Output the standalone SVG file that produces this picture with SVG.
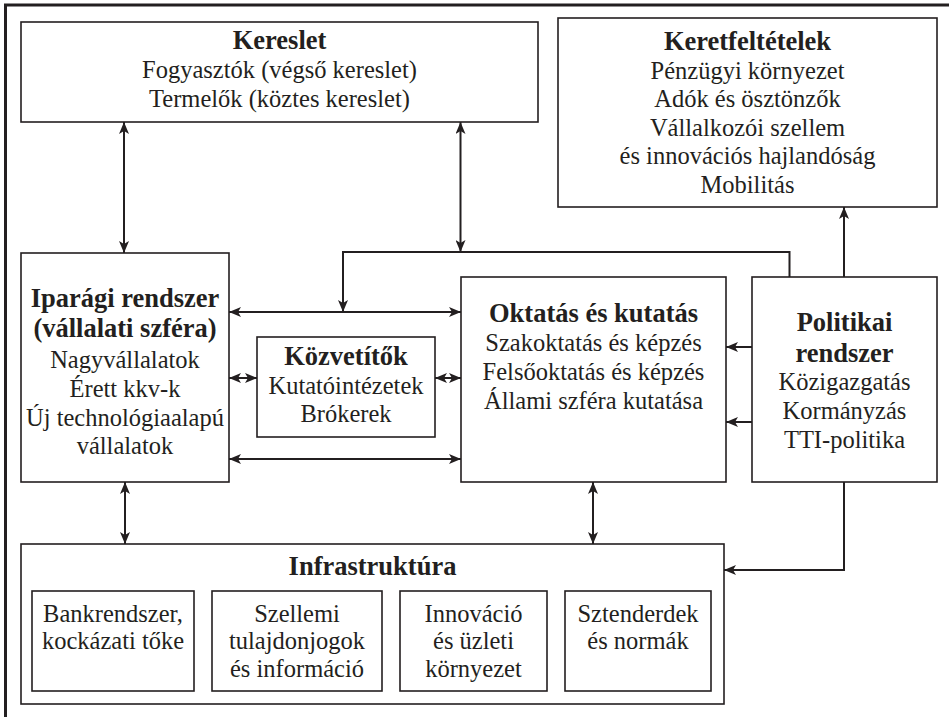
<svg xmlns="http://www.w3.org/2000/svg" width="949" height="717" viewBox="0 0 949 717">
<style>
text{font-family:'Liberation Serif','DejaVu Serif','Times New Roman',serif;fill:#231f20;text-anchor:middle;font-size:24.5px}
.b{font-weight:bold;font-size:26.5px}
.box{fill:#fff;stroke:#231f20;stroke-width:1.6}
.c{fill:none;stroke:#231f20;stroke-width:2}
</style>
<defs>
<marker id="ah" viewBox="0 0 12 10" refX="12" refY="5" markerWidth="12" markerHeight="10" markerUnits="userSpaceOnUse" orient="auto-start-reverse">
<path d="M0,0 L12,5 L0,10 L3,5 Z" fill="#231f20"/>
</marker>
</defs>
<rect width="949" height="717" fill="#fff"/>
<g id="frame">
<path d="M5.5,717 V5 H949" fill="none" stroke="#231f20" stroke-width="3"/>
</g>
<g font-family="Liberation Serif, DejaVu Serif, serif">
<g id="kereslet">
<rect class="box" x="21" y="22" width="517" height="100"/>
<text class="b" x="279.5" y="49">Kereslet</text>
<text x="279.5" y="78">Fogyasztók (végső kereslet)</text>
<text x="279.5" y="107">Termelők (köztes kereslet)</text>
</g>
<g id="keretfeltetelek">
<rect class="box" x="558" y="18" width="379" height="189"/>
<text class="b" x="747.5" y="50">Keretfeltételek</text>
<text x="747.5" y="78.5">Pénzügyi környezet</text>
<text x="747.5" y="107">Adók és ösztönzők</text>
<text x="747.5" y="135.5">Vállalkozói szellem</text>
<text x="747.5" y="164">és innovációs hajlandóság</text>
<text x="747.5" y="192.5">Mobilitás</text>
</g>
<g id="iparagi">
<rect class="box" x="21" y="253" width="208" height="229"/>
<text class="b" x="125" y="306.5">Iparági rendszer</text>
<text class="b" x="125" y="336.5">(vállalati szféra)</text>
<text x="125" y="367.5">Nagyvállalatok</text>
<text x="125" y="396.5">Érett kkv-k</text>
<text x="125" y="425.5">Új technológiaalapú</text>
<text x="125" y="454">vállalatok</text>
</g>
<g id="kozvetitok">
<rect class="box" x="257" y="337" width="178" height="100"/>
<text class="b" x="346" y="365">Közvetítők</text>
<text x="346" y="394">Kutatóintézetek</text>
<text x="346" y="422">Brókerek</text>
</g>
<g id="oktatas">
<rect class="box" x="461" y="277" width="265" height="205"/>
<text class="b" x="593.5" y="321.5">Oktatás és kutatás</text>
<text x="593.5" y="351">Szakoktatás és képzés</text>
<text x="593.5" y="379.5">Felsőoktatás és képzés</text>
<text x="593.5" y="408.5">Állami szféra kutatása</text>
</g>
<g id="politikai">
<rect class="box" x="752" y="277" width="185" height="205"/>
<text class="b" x="844.5" y="330.5">Politikai</text>
<text class="b" x="844.5" y="361.5">rendszer</text>
<text x="844.5" y="390">Közigazgatás</text>
<text x="844.5" y="419">Kormányzás</text>
<text x="844.5" y="448">TTI-politika</text>
</g>
<g id="infrastruktura">
<rect class="box" x="21" y="544" width="703" height="160"/>
<text class="b" x="372.5" y="575">Infrastruktúra</text>
<g id="bankrendszer">
<rect class="box" x="32" y="591" width="162" height="100"/>
<text x="113" y="621.5">Bankrendszer,</text>
<text x="113" y="649">kockázati tőke</text>
</g>
<g id="szellemi">
<rect class="box" x="212" y="591" width="170" height="100"/>
<text x="297" y="621.5">Szellemi</text>
<text x="297" y="649">tulajdonjogok</text>
<text x="297" y="676.5">és információ</text>
</g>
<g id="innovacio">
<rect class="box" x="400" y="591" width="147" height="100"/>
<text x="473.5" y="621.5">Innováció</text>
<text x="473.5" y="649">és üzleti</text>
<text x="473.5" y="676.5">környezet</text>
</g>
<g id="sztenderdek">
<rect class="box" x="565" y="591" width="146" height="100"/>
<text x="638" y="621.5">Sztenderdek</text>
<text x="638" y="649">és normák</text>
</g>
</g>
</g>
<g id="connectors">
<line class="c" x1="124" y1="122" x2="124" y2="253" marker-start="url(#ah)" marker-end="url(#ah)"/>
<line class="c" x1="460.5" y1="122" x2="460.5" y2="252" marker-start="url(#ah)" marker-end="url(#ah)"/>
<path class="c" d="M789.5,277 V252 H343 V312" marker-end="url(#ah)"/>
<line class="c" x1="229" y1="312" x2="461" y2="312" marker-start="url(#ah)" marker-end="url(#ah)"/>
<line class="c" x1="229" y1="459" x2="461" y2="459" marker-start="url(#ah)" marker-end="url(#ah)"/>
<line class="c" x1="229" y1="378" x2="257" y2="378" marker-start="url(#ah)" marker-end="url(#ah)"/>
<line class="c" x1="435" y1="378" x2="461" y2="378" marker-start="url(#ah)" marker-end="url(#ah)"/>
<line class="c" x1="752" y1="347" x2="726" y2="347" marker-end="url(#ah)"/>
<line class="c" x1="752" y1="422" x2="726" y2="422" marker-end="url(#ah)"/>
<line class="c" x1="844" y1="277" x2="844" y2="207" marker-end="url(#ah)"/>
<path class="c" d="M844,482 V570 H724" marker-end="url(#ah)"/>
<line class="c" x1="125" y1="482" x2="125" y2="544" marker-start="url(#ah)" marker-end="url(#ah)"/>
<line class="c" x1="593" y1="482" x2="593" y2="544" marker-start="url(#ah)" marker-end="url(#ah)"/>
</g>
</svg>
